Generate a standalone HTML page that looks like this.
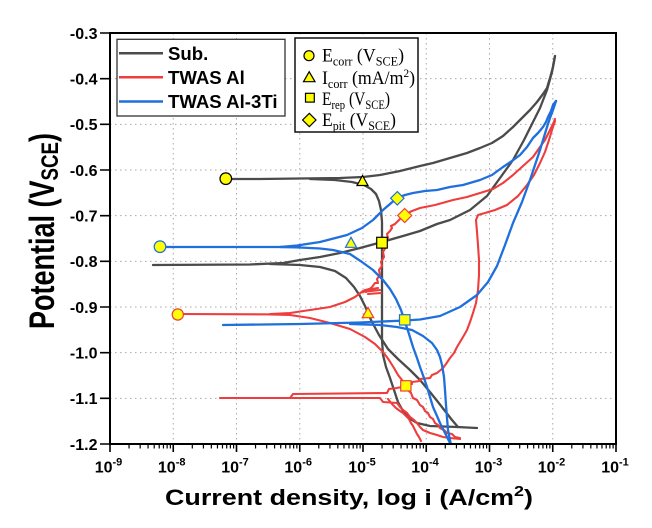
<!DOCTYPE html>
<html>
<head>
<meta charset="utf-8">
<style>
html,body{margin:0;padding:0;background:#fff;}
svg{display:block;}
</style>
</head>
<body>
<svg width="652" height="528" viewBox="0 0 652 528" xmlns="http://www.w3.org/2000/svg">
<defs>
<clipPath id="pc"><rect x="110" y="33" width="506" height="411"/></clipPath>
<g id="mt"><path d="M19.04,444v4.5M30.18,444v4.5M38.08,444v4.5M44.21,444v4.5M49.22,444v4.5M53.45,444v4.5M57.12,444v4.5M60.36,444v4.5" stroke="#000" stroke-width="1.2"/></g>
</defs>
<rect width="652" height="528" fill="#fff"/>

<!-- grid -->
<g stroke="#a8a8a8" stroke-width="1" stroke-dasharray="1.5,3.5" fill="none">
<path d="M173.25,33V444M236.5,33V444M299.75,33V444M363,33V444M426.25,33V444M489.5,33V444M552.75,33V444"/>
<path d="M110,78.67H616M110,124.33H616M110,170H616M110,215.67H616M110,261.33H616M110,307H616M110,352.67H616M110,398.33H616"/>
</g>

<!-- curves -->
<g clip-path="url(#pc)" fill="none" stroke-linejoin="round" stroke-linecap="round">
<g stroke="#4b4b4b" stroke-width="2.3">
<path d="M226,179 L260,179 L300,178.5 L340,178 L363,177 L380,175 L400,171 L420,166 L433,163 L450,158 L467,153 L480,148 L492,143 L503,136 L513,127 L522,118 L530,110 L537,102 L543,94 L547,88 L550,78 L553,67 L555,56"/>
<path d="M310,179 L335,180 L352,182 L364,185 L371,189 L376,194 L379,201 L381,210 L382,222 L382,260 L382,300 L382,340 L383,355 L386,367 L390,378 L394,390 L398,402 L403,411 L409,418 L417,423 L430,426 L457,427 L477,428"/>
<path d="M555,56 L552,72 L547,90 L540,108 L533,122 L524,140 L513,160 L500,178 L487,196 L470,210 L450,220 L437,224 L420,231 L403,236 L382,242 L360,248 L340,253 L320,257 L300,260 L283,263 L250,264.5 L153,265"/>
<path d="M270,264 L300,265 L320,267 L335,271 L346,278 L354,287 L360,296 L365,306 L371,320 L379,335 L388,349 L398,359 L410,370 L420,380 L430,392 L438,402 L445,411 L452,420 L458,427"/>
</g>
<g stroke="#ee3d3d" stroke-width="2.1">
<path d="M178,314 L290,314.5"/>
<path d="M270,314 L290,313 L310,310 L330,307 L345,302 L355,297 L363,291 L369,289 L366,292 L372,287 L375,283 L378,283 L377,279 L380,275 L379,270 L382,266 L381,262 L384,257 L383,252 L386,247 L385,243 L388,238 L387,234 L390,231 L392,228 L391,226 L395,224 L400,219 L404,215 L412,211 L420,208 L435,205 L453,200 L467,197 L480,193 L493,189 L503,183 L513,175 L523,166 L533,157 L540,147 L545,140 L549,132 L553,124 L555,119"/>
<path d="M362,292 L380,290 M365,290 L378,288 M368,294 L381,293"/>
<path d="M270,314.5 L290,315 L310,318 L330,323 L350,329 L365,337 L375,344 L383,352 L389,360 L394,368 L398,375 L402,380 L405,385 L408,390 L411,393 L413,398 L417,400 L420,405 L423,407 L425,411 L428,413 L430,417 L433,419 L435,423 L438,425 L440,428 L444,430 L447,433 L452,434 L455,437 L460,438"/>
<path d="M290,398 L293,394 L387,393 L389,389 L397,388 L406,386 L412,384 L412,382 L420,381 L420,379 L430,378 L432,375 L437,373 L443,368 L446,364 L450,358 L454,353 L457,347 L460,342 L463,337 L467,330 L470,322 L473,313 L476,303 L478,290 L479,275 L479,260 L478,245 L477,232 L476,220 L478,215 L485,213 L495,210 L507,205 L518,196 L527,185 L534,175 L540,163 L545,152 L549,140 L552,130 L555,121"/>
<path d="M220,398 L290,398 L380,398 L383,402 L397,403 L400,407 L403,410 L407,413 L410,417 L414,420 L417,423 L420,427 L423,430 L430,433 L437,435 L443,437 L450,438 L460,439"/>
<path d="M388,399 L392,404 L396,408 L400,411 L403,413 L406,416 L409,419 L411,423 L413,426 L415,430 L417,434 L419,437 L421,441"/>
</g>
<g stroke="#1f6fdd" stroke-width="2.3">
<path d="M160,247 L300,247"/>
<path d="M280,247 L297,245.5 L320,242 L347,235 L362,228 L373,220 L383,210 L390,204 L397,198 L405,195 L413,193 L425,191 L437,190 L450,187 L463,185 L480,180 L492,175 L503,167 L512,161 L520,155 L527,147 L533,138 L538,133 L543,127 L546,122 L548,117 L551,111 L553,105 L556,101"/>
<path d="M556,101 L553,110 L550,118 L547,127 L540,150 L530,180 L522,202 L513,223 L505,245 L497,266 L488,282 L477,295 L460,307 L440,316 L420,319.5 L405,320.5 L360,322.5 L300,324 L223,325"/>
<path d="M280,247 L300,247.5 L320,248.5 L333,250 L350,254 L362,262 L373,270 L383,280 L390,289 L396,299 L401,310 L405,322 L409,334 L413,347 L417,358 L420,367 L424,378 L427,387 L430,397 L433,407 L437,416 L440,423 L444,431 L447,437 L451,445"/>
<path d="M350,324 L380,325 L397,327 L412,330 L423,336 L432,343 L437,350 L440,357 L442,365 L444,377 L445,390 L446,405 L447,418 L448,430 L450,440 L451,445"/>
</g>
</g>

<!-- markers -->
<g fill="#ffff00" stroke-width="1.2">
<circle cx="225.8" cy="178.7" r="5.8" stroke="#000"/>
<circle cx="177.8" cy="314.5" r="5.6" stroke="#ee3d3d"/>
<circle cx="160" cy="246.7" r="5.8" stroke="#1f6fdd"/>
<polygon points="362.5,175.5 357,185.5 368,185.5" stroke="#000"/>
<polygon points="351,237.3 345.5,247.3 356.5,247.3" stroke="#1f6fdd"/>
<polygon points="368,307.3 362.3,317.7 373.7,317.7" stroke="#ee3d3d"/>
<rect x="376.7" y="237.3" width="10.6" height="10.8" stroke="#000"/>
<rect x="400.7" y="380.7" width="10.3" height="10.3" stroke="#ee3d3d"/>
<rect x="399.5" y="314.7" width="10.5" height="10.3" stroke="#1f6fdd"/>
<polygon points="397.3,191.6 404,198.3 397.3,205 390.6,198.3" stroke="#1f6fdd"/>
<polygon points="404.7,208.5 411.7,215.5 404.7,222.5 397.7,215.5" stroke="#ee3d3d"/>
</g>

<!-- frame -->
<rect x="110" y="33" width="506" height="411" fill="none" stroke="#000" stroke-width="2"/>

<!-- ticks -->
<g stroke="#000" stroke-width="1.6">
<path d="M110,444v8M173.25,444v8M236.5,444v8M299.75,444v8M363,444v8M426.25,444v8M489.5,444v8M552.75,444v8M616,444v8"/>
<path d="M100,33H110M100,78.67H110M100,124.33H110M100,170H110M100,215.67H110M100,261.33H110M100,307H110M100,352.67H110M100,398.33H110M100,444H110"/>
</g>
<use href="#mt" x="110"/>
<use href="#mt" x="173.25"/>
<use href="#mt" x="236.5"/>
<use href="#mt" x="299.75"/>
<use href="#mt" x="363"/>
<use href="#mt" x="426.25"/>
<use href="#mt" x="489.5"/>
<use href="#mt" x="552.75"/>

<!-- y tick labels -->
<g font-family="'Liberation Sans', Arial, sans-serif" font-weight="bold" font-size="16" text-anchor="end" fill="#000">
<text x="97.5" y="39">-0.3</text>
<text x="97.5" y="84.5">-0.4</text>
<text x="97.5" y="130.2">-0.5</text>
<text x="97.5" y="175.8">-0.6</text>
<text x="97.5" y="221.5">-0.7</text>
<text x="97.5" y="267.2">-0.8</text>
<text x="97.5" y="312.8">-0.9</text>
<text x="97.5" y="358.5">-1.0</text>
<text x="97.5" y="404.2">-1.1</text>
<text x="97.5" y="449.8">-1.2</text>
</g>

<!-- x tick labels -->
<g font-family="'Liberation Sans', Arial, sans-serif" font-weight="bold" font-size="16" text-anchor="middle" fill="#000">
<text x="108.5" y="472.5">10<tspan font-size="11" dy="-7">-9</tspan></text>
<text x="171.7" y="472.5">10<tspan font-size="11" dy="-7">-8</tspan></text>
<text x="235" y="472.5">10<tspan font-size="11" dy="-7">-7</tspan></text>
<text x="298.2" y="472.5">10<tspan font-size="11" dy="-7">-6</tspan></text>
<text x="362" y="472.5">10<tspan font-size="11" dy="-7">-5</tspan></text>
<text x="425" y="472.5">10<tspan font-size="11" dy="-7">-4</tspan></text>
<text x="488.5" y="472.5">10<tspan font-size="11" dy="-7">-3</tspan></text>
<text x="551.5" y="472.5">10<tspan font-size="11" dy="-7">-2</tspan></text>
<text x="615" y="472.5">10<tspan font-size="11" dy="-7">-1</tspan></text>
</g>

<!-- axis titles -->
<text x="165" y="505" font-family="'Liberation Sans', Arial, sans-serif" font-weight="bold" font-size="22.5" fill="#000" textLength="368" lengthAdjust="spacingAndGlyphs">Current density, log i (A/cm<tspan font-size="15" dy="-9">2</tspan><tspan dy="9">)</tspan></text>

<text transform="translate(54,231) rotate(-90) scale(1,1.35)" x="0" y="0" text-anchor="middle" font-family="'Liberation Sans', Arial, sans-serif" font-weight="bold" font-size="26" fill="#000" textLength="196" lengthAdjust="spacingAndGlyphs">Potential  (V<tspan font-size="18" dy="3">SCE</tspan><tspan dy="-3">)</tspan></text>

<!-- legend 1 -->
<rect x="117" y="39.3" width="168" height="76.7" fill="#fff" stroke="#333" stroke-width="1.3"/>
<g stroke-width="2.5">
<line x1="119" y1="53.3" x2="163" y2="53.3" stroke="#4b4b4b"/>
<line x1="119" y1="77.3" x2="163" y2="77.3" stroke="#ee3d3d"/>
<line x1="119" y1="101.5" x2="163" y2="101.5" stroke="#1f6fdd"/>
</g>
<g font-family="'Liberation Sans', Arial, sans-serif" font-weight="bold" font-size="18.6" fill="#000">
<text x="168" y="60">Sub.</text>
<text x="168" y="84">TWAS Al</text>
<text x="168" y="108">TWAS Al-3Ti</text>
</g>

<!-- legend 2 -->
<rect x="295" y="38" width="123" height="94" fill="#fff" stroke="#111" stroke-width="1.5"/>
<g fill="#ffff00" stroke="#000" stroke-width="1.2">
<circle cx="309" cy="55.7" r="5"/>
<polygon points="309.2,71.7 303.5,81.7 315,81.7"/>
<rect x="305.5" y="93.3" width="8.8" height="8.8"/>
<polygon points="309.3,113.3 316,120 309.3,126.7 302.6,120"/>
</g>
<g font-family="'Liberation Serif', 'Times New Roman', serif" font-size="19" fill="#000">
<text x="322" y="61.7" textLength="82" lengthAdjust="spacingAndGlyphs">E<tspan font-size="13" dy="4">corr</tspan><tspan dy="-4"> (V</tspan><tspan font-size="13" dy="4">SCE</tspan><tspan dy="-4">)</tspan></text>
<text x="322" y="84" textLength="93" lengthAdjust="spacingAndGlyphs">I<tspan font-size="13" dy="4">corr</tspan><tspan dy="-4"> (mA/m</tspan><tspan font-size="12" dy="-7">2</tspan><tspan dy="7">)</tspan></text>
<text x="322" y="105" textLength="68" lengthAdjust="spacingAndGlyphs">E<tspan font-size="13" dy="4">rep</tspan><tspan dy="-4"> (V</tspan><tspan font-size="13" dy="4">SCE</tspan><tspan dy="-4">)</tspan></text>
<text x="322" y="126" textLength="74" lengthAdjust="spacingAndGlyphs">E<tspan font-size="13" dy="4">pit</tspan><tspan dy="-4"> (V</tspan><tspan font-size="13" dy="4">SCE</tspan><tspan dy="-4">)</tspan></text>
</g>
</svg>
</body>
</html>
